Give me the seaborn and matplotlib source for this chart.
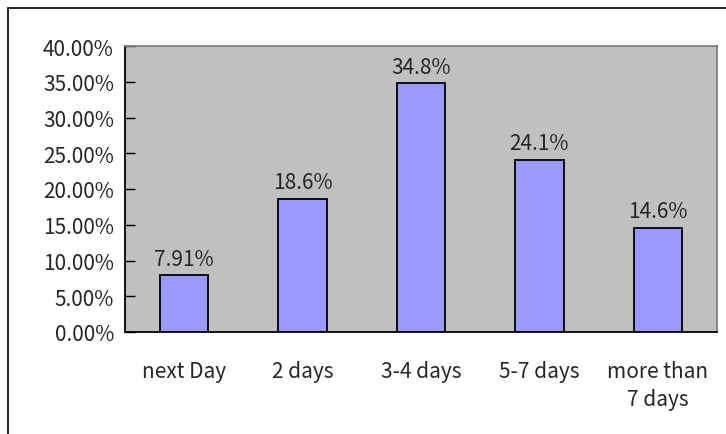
import matplotlib
matplotlib.use("Agg")
import matplotlib.pyplot as plt
import seaborn as sns
import pandas as pd
from matplotlib.patches import Rectangle

categories = ["next Day", "2 days", "3-4 days", "5-7 days", "more than\n7 days"]
shares = [0.0791, 0.186, 0.348, 0.241, 0.146]
bar_labels = ["7.91%", "18.6%", "34.8%", "24.1%", "14.6%"]
y_ticks = [0.0, 0.05, 0.10, 0.15, 0.20, 0.25, 0.30, 0.35, 0.40]
y_tick_labels = ["0.00%", "5.00%", "10.00%", "15.00%", "20.00%",
                 "25.00%", "30.00%", "35.00%", "40.00%"]

sns.set_style("white")
plt.rcParams["font.family"] = ["Noto Sans CJK JP", "DejaVu Sans"]
FS = 15

df = pd.DataFrame({"category": categories, "share": shares})

fig = plt.figure(figsize=(7.26, 4.35), dpi=100)
W, H = 726, 435
ax = fig.add_axes([125 / W, 1 - 333 / H, (717 - 125) / W, (333 - 47) / H])

sns.barplot(data=df, x="category", y="share", ax=ax, color="#9999FF",
            saturation=1, width=0.41, edgecolor="black", linewidth=1.3)

ax.set_facecolor("#C0C0C0")
ax.set_ylim(0, 0.40)
ax.set_xlim(-0.5, len(categories) - 0.5)
ax.set_yticks(y_ticks)
ax.set_yticklabels(y_tick_labels, fontsize=FS)
ax.set_xlabel("")
ax.set_ylabel("")

# category labels, with tick marks at category boundaries
ax.set_xticks(range(len(categories)))
ax.set_xticklabels(categories, fontsize=FS, linespacing=1.35)
ax.tick_params(axis="x", length=0, pad=20)
ax.set_xticks([i + 0.5 for i in range(len(categories) - 1)], minor=True)
ax.tick_params(axis="x", which="minor", direction="in", length=6,
               width=1, color="#404040")
ax.tick_params(axis="y", direction="in", length=7, width=1,
               color="black", pad=8, left=True)

for side in ["left", "bottom"]:
    ax.spines[side].set_color("black")
    ax.spines[side].set_linewidth(1.3)
for side in ["top", "right"]:
    ax.spines[side].set_color("#808080")
    ax.spines[side].set_linewidth(1.3)

for i, (v, lab) in enumerate(zip(shares, bar_labels)):
    ax.annotate(lab, (i, v), xytext=(0, 4), textcoords="offset points",
                ha="center", va="bottom", fontsize=FS)

# chart frame
fig.patches.append(Rectangle((8 / W, -0.1), 1.2, 1 - 9 / H + 0.1,
                             transform=fig.transFigure, fill=False,
                             edgecolor="black", linewidth=1.2))

fig.savefig("out.png", dpi=100, facecolor="white")
